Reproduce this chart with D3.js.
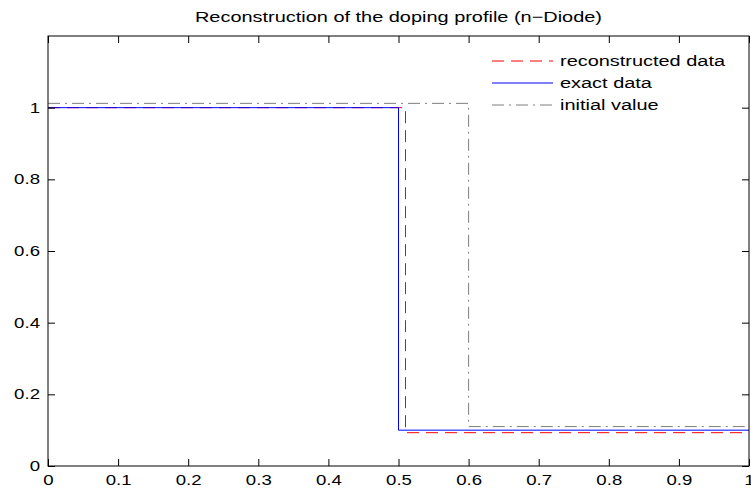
<!DOCTYPE html>
<html>
<head>
<meta charset="utf-8">
<script src="https://cdn.jsdelivr.net/npm/d3@7"></script>
<style>
  body { margin: 0; background: #fff; }
  text { font-family: "Liberation Sans", Arial, sans-serif; }
</style>
</head>
<body>
<svg id="mychart" width="751" height="493"></svg>
<script>
const width = 751, height = 493
const margin = ({top: 36, right: 2, bottom: 27, left: 48})
const stretch = 1.33  // the original text is drawn wide

// step profiles: [x, y] breakpoints
const exactData = [[0, 1], [0.5, 1], [0.5, 0.1], [1, 0.1]]
const reconData = [[0, 1], [0.51, 1], [0.51, 0.093], [1, 0.093]]
const initialData = [[0, 1.012], [0.6, 1.012], [0.6, 0.11], [1, 0.11]]

const xTicks = [0, 0.1, 0.2, 0.3, 0.4, 0.5, 0.6, 0.7, 0.8, 0.9, 1]
const yTicks = [0, 0.2, 0.4, 0.6, 0.8, 1]

const series = [
  {name: "reconstructed data", data: reconData, color: "#ff0000", dash: "12,7"},
  {name: "exact data", data: exactData, color: "#0000ff", dash: null},
  {name: "initial value", data: initialData, color: "#7f7f7f", dash: "12,5,2,5"}
]

const x = d3.scaleLinear().domain([0, 1]).range([margin.left, width - margin.right])
const y = d3.scaleLinear().domain([0, 1.2]).range([height - margin.bottom, margin.top])

const svg = d3.select('#mychart')

const line = d3.line().x(d => x(d[0])).y(d => y(d[1]))

svg.append("g")
  .selectAll("path")
  .data(series)
  .join("path")
  .attr("fill", "none")
  .attr("stroke", d => d.color)
  .attr("stroke-width", 1)
  .attr("stroke-dasharray", d => d.dash)
  .attr("d", d => line(d.data))

// widen a text horizontally around its own anchor
function widen(sel) {
  sel.each(function () {
    const t = d3.select(this)
    const tx = +(t.attr("x") || 0)
    t.attr("x", tx / stretch).attr("transform", `scale(${stretch},1)`)
  })
}

// axes (MATLAB style, ticks inside, box on)
const tickLen = 7
const axisStyle = g => {
  g.select(".domain").remove()
  g.selectAll("text").attr("font-size", 14).attr("fill", "#000").call(widen)
  g.selectAll("line").attr("stroke", "#000")
}

svg.append("g")
  .attr("transform", `translate(0,${y(0)})`)
  .call(d3.axisBottom(x).tickValues(xTicks).tickFormat(d3.format("")).tickSizeInner(-tickLen).tickPadding(9))
  .call(axisStyle)

svg.append("g")
  .attr("transform", `translate(0,${y(1.2)})`)
  .call(d3.axisTop(x).tickValues(xTicks).tickFormat("").tickSizeInner(-tickLen))
  .call(axisStyle)

svg.append("g")
  .attr("transform", `translate(${x(0)},0)`)
  .call(d3.axisLeft(y).tickValues(yTicks).tickFormat(d3.format("")).tickSizeInner(-tickLen).tickPadding(8))
  .call(axisStyle)

svg.append("g")
  .attr("transform", `translate(${x(1)},0)`)
  .call(d3.axisRight(y).tickValues(yTicks).tickFormat("").tickSizeInner(-tickLen))
  .call(axisStyle)

svg.append("rect")
  .attr("x", x(0)).attr("y", y(1.2))
  .attr("width", x(1) - x(0)).attr("height", y(0) - y(1.2))
  .attr("fill", "none").attr("stroke", "#000").attr("stroke-width", 1)

svg.append("text")
  .attr("x", (x(0) + x(1)) / 2)
  .attr("y", 22)
  .attr("text-anchor", "middle")
  .attr("font-size", 15)
  .text("Reconstruction of the doping profile (n\u2212Diode)")
  .call(widen)

// legend (no box)
const legend = svg.append("g")
  .selectAll("g")
  .data(series)
  .join("g")
  .attr("transform", (d, i) => `translate(492,${61 + i * 22})`)

legend.append("line")
  .attr("x1", 0).attr("x2", 61)
  .attr("stroke", d => d.color)
  .attr("stroke-dasharray", d => d.dash)

legend.append("text")
  .attr("x", 68).attr("dy", "0.35em")
  .attr("font-size", 15)
  .text(d => d.name)
  .call(widen)
</script>
</body>
</html>
